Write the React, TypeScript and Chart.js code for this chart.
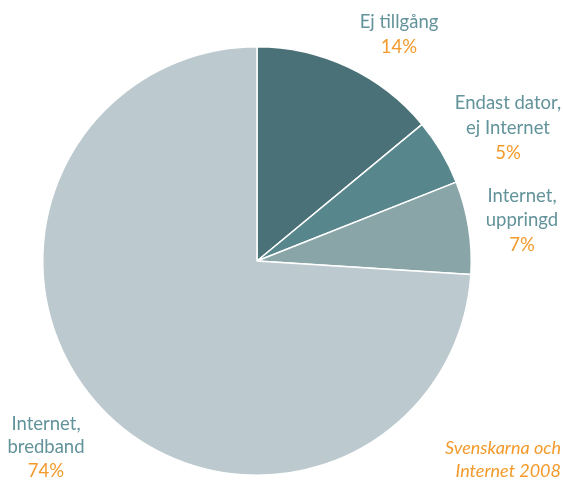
import React, { useEffect, useRef } from "react";
import { Chart, registerables } from "chart.js";

Chart.register(...registerables);

const categories = ["Ej tillgång", "Endast dator, ej Internet", "Internet, uppringd", "Internet, bredband"];
const labelLines = [["Ej tillgång"], ["Endast dator,", "ej Internet"], ["Internet,", "uppringd"], ["Internet,", "bredband"]];
const values = [14, 5, 7, 74];
const colors = ["#4a7177", "#57868d", "#89a5a8", "#bccacf"];
const sourceLines = ["Svenskarna och", "Internet 2008"];

// label anchor positions (center x, first line middle y, line height)
const labelPos = [
  { x: 399, y: 22, lh: 25 },
  { x: 508, y: 103, lh: 25 },
  { x: 522, y: 196, lh: 24.5 },
  { x: 46, y: 424, lh: 23.5 },
];

const TEXT_COLOR = "#62939a";
const PCT_COLOR = "#f39a2b";
const FONT = "Lato, 'Open Sans', sans-serif";

const labelPlugin = {
  id: "sliceLabels",
  afterDraw(chart: any) {
    const ctx = chart.ctx;
    ctx.save();
    ctx.textAlign = "center";
    ctx.textBaseline = "middle";
    labelLines.forEach((lines, i) => {
      const p = labelPos[i];
      ctx.font = `18.5px ${FONT}`;
      ctx.fillStyle = TEXT_COLOR;
      lines.forEach((t, j) => ctx.fillText(t, p.x, p.y + j * p.lh));
      ctx.fillStyle = PCT_COLOR;
      ctx.fillText(values[i] + "%", p.x, p.y + lines.length * p.lh);
    });
    ctx.font = `italic 18px ${FONT}`;
    ctx.fillStyle = PCT_COLOR;
    ctx.textAlign = "right";
    sourceLines.forEach((t, j) => ctx.fillText(t, 561, 448 + j * 23.5));
    ctx.restore();
  },
};

export default function App() {
  const ref = useRef<HTMLCanvasElement>(null);
  useEffect(() => {
    if (!ref.current) return;
    const chart = new Chart(ref.current, {
      type: "pie",
      data: {
        labels: categories,
        datasets: [
          {
            data: values,
            backgroundColor: colors,
            borderColor: "#ffffff",
            borderWidth: 1.5,
          },
        ],
      },
      options: {
        responsive: false,
        animation: false,
        layout: { padding: { left: 42, right: 91, top: 46, bottom: 5 } },
        plugins: { legend: { display: false }, tooltip: { enabled: false } },
      },
      plugins: [labelPlugin],
    });
    return () => chart.destroy();
  }, []);
  return (
    <div style={{ position: "absolute", left: 0, top: 0, width: 563, height: 481, background: "#fff" }}>
      <canvas ref={ref} width={563} height={481} style={{ display: "block" }} />
    </div>
  );
}
